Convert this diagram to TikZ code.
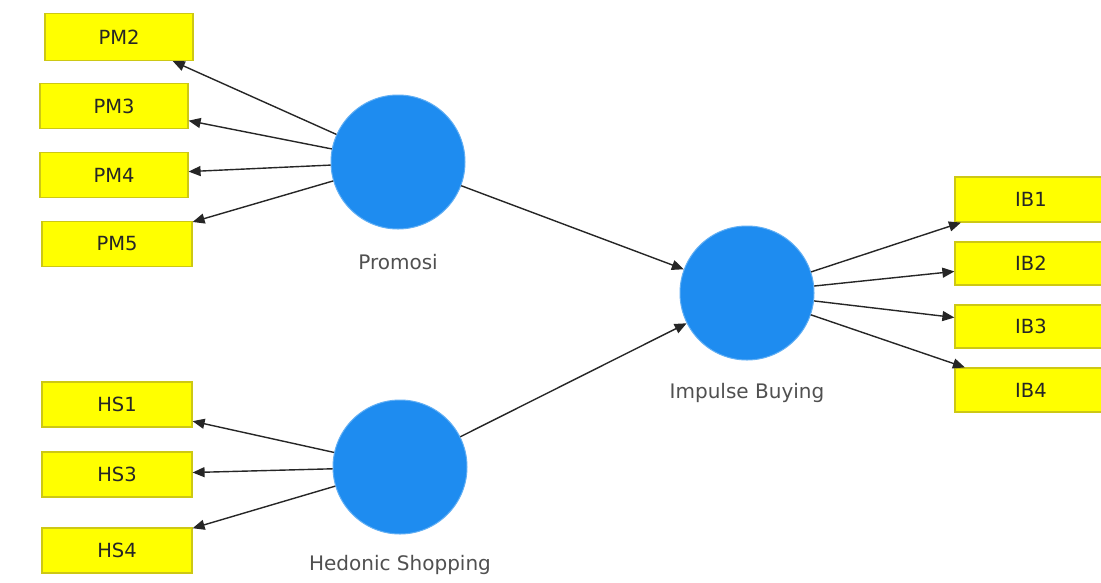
\documentclass[tikz,border=0pt]{standalone}
\usepackage{fontspec}
\setmainfont{DejaVu Sans}
\usetikzlibrary{arrows.meta}
\definecolor{boxfill}{RGB}{255,255,0}
\definecolor{boxline}{RGB}{205,200,20}
\definecolor{latent}{RGB}{30,140,240}
\definecolor{labelgray}{RGB}{80,80,80}
\begin{document}
\begin{tikzpicture}[x=1pt,y=-1pt,
  indic/.style={draw=boxline, line width=1.2pt, fill=boxfill, minimum width=148pt, minimum height=45pt, inner sep=0pt, font=\fontsize{19.5}{23}\selectfont, text=black!85},
  lat/.style={circle, fill=latent, draw=latent!70!white, line width=1pt, minimum size=134pt, inner sep=0pt},
  lbl/.style={font=\fontsize{20}{24}\selectfont, text=labelgray, inner sep=0pt},
  arr/.style={-{Triangle[length=12pt,width=10pt]}, line width=1.4pt, black!85}]
\clip (0,0) rectangle (1101,582);
\fill[white] (0,0) rectangle (1101,582);
% indicators
\node[indic, minimum height=47pt] (PM2) at (119,37) {PM2};
\node[indic] (PM3) at (114,106) {PM3};
\node[indic] (PM4) at (114,175) {PM4};
\node[indic, minimum width=150pt] (PM5) at (117,244) {PM5};
\node[indic, minimum width=150pt] (HS1) at (117,404.5) {HS1};
\node[indic, minimum width=150pt] (HS3) at (117,474.5) {HS3};
\node[indic, minimum width=150pt] (HS4) at (117,550.5) {HS4};
\node[indic, minimum width=152pt] (IB1) at (1031,199.5) {IB1};
\node[indic, minimum width=152pt, minimum height=43pt] (IB2) at (1031,263.5) {IB2};
\node[indic, minimum width=152pt, minimum height=43pt] (IB3) at (1031,326.5) {IB3};
\node[indic, minimum width=152pt, minimum height=44pt] (IB4) at (1031,390) {IB4};
% latent variables
\node[lat] (P) at (398,162) {};
\node[lat] (H) at (400,467) {};
\node[lat] (I) at (747,293) {};
\node[lbl] (Plbl) at (398,262) {Promosi};
\node[lbl] (Hlbl) at (400,565) {Hedonic Shopping};
\node[lbl] (Ilbl) at (747,393) {Impulse Buying};
% connectors
\foreach \t in {PM2,PM3,PM4,PM5} \draw[arr] (P) -- (\t);
\foreach \t in {HS1,HS3,HS4} \draw[arr] (H) -- (\t);
\foreach \t in {IB1,IB2,IB3,IB4} \draw[arr] (I) -- (\t);
\draw[arr] (P) -- (I);
\draw[arr] (H) -- (I);
\end{tikzpicture}
\end{document}
